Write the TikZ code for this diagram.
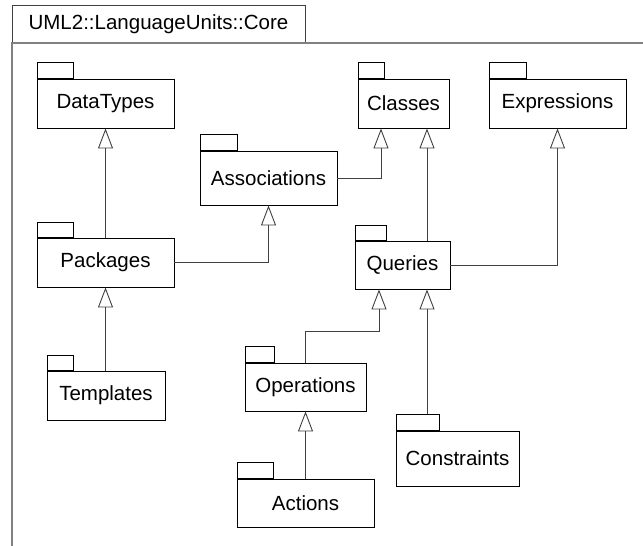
\documentclass[tikz,border=0pt]{standalone}
\usepackage{fontspec}
\setmainfont{Liberation Sans}
\usetikzlibrary{arrows.meta,calc}
\begin{document}
\begin{tikzpicture}[x=1pt,y=-1pt,
  font=\fontsize{20.5}{24}\selectfont,
  pkg/.style={draw=black,line width=0.9pt,inner sep=0pt,minimum height=49pt,fill=white},
  pkgtab/.style={draw=black,line width=0.9pt,inner sep=0pt,minimum height=16pt,anchor=south west},
  gen/.style={draw=black!75,line width=0.9pt,-{Triangle[open,length=20pt,width=15pt,line width=0.9pt]}},
  frame/.style={draw=black!50,line width=1.4pt}]
\useasboundingbox (0,0) rectangle (643,546);
% frame
\node[draw=black!75,line width=0.9pt,minimum width=293pt,minimum height=38pt,inner sep=0pt] (title) at (158.5,24) {UML2::LanguageUnits::Core};
\coordinate (ftl) at (12,43);
\coordinate (ftr) at (643,43);
\coordinate (fbl) at (12,546);
\draw[frame] (fbl) -- (ftl) -- (ftr);
% packages
\node[pkg,minimum width=137pt] (datatypes) at (105.5,103.5) {DataTypes};
\node[pkgtab,minimum width=36pt] (datatypestab) at (datatypes.north west) {};
\node[pkg,minimum width=91pt] (classes) at (403.5,103.5) {Classes};
\node[pkgtab,minimum width=26pt] (classestab) at (classes.north west) {};
\node[pkg,minimum width=137pt] (expressions) at (557.5,103.5) {Expressions};
\node[pkgtab,minimum width=37pt] (expressionstab) at (expressions.north west) {};
\node[pkg,minimum width=137pt,minimum height=54pt] (associations) at (268.5,178) {Associations};
\node[pkgtab,minimum width=37pt] (associationstab) at (associations.north west) {};
\node[pkg,minimum width=137pt] (packages) at (105.5,262.5) {Packages};
\node[pkgtab,minimum width=36pt,minimum height=15pt] (packagestab) at (packages.north west) {};
\node[pkg,minimum width=95pt,minimum height=48pt] (queries) at (402.5,265) {Queries};
\node[pkgtab,minimum width=31pt,minimum height=15pt] (queriestab) at (queries.north west) {};
\node[pkg,minimum width=118pt] (templates) at (106,395.5) {Templates};
\node[pkgtab,minimum width=26pt,minimum height=15pt] (templatestab) at (templates.north west) {};
\node[pkg,minimum width=121pt,minimum height=48pt] (operations) at (305.5,387) {Operations};
\node[pkgtab,minimum width=29pt] (operationstab) at (operations.north west) {};
\node[pkg,minimum width=123pt,minimum height=55pt] (constraints) at (457.5,458.5) {Constraints};
\node[pkgtab,minimum width=43pt] (constraintstab) at (constraints.north west) {};
\node[pkg,minimum width=137pt,minimum height=48pt] (actions) at (305.5,503) {Actions};
\node[pkgtab,minimum width=36pt] (actionstab) at (actions.north west) {};
% helper coordinates
\coordinate (cls1) at ($(classes.south)+(-22.5,0)$);
\coordinate (cls2) at ($(classes.south)+(23.5,0)$);
\coordinate (qs1) at ($(queries.south)+(-23.5,0)$);
\coordinate (qs2) at ($(queries.south)+(24.5,0)$);
% connectors
\draw[gen] (packages.north) -- (datatypes.south);
\draw[gen] (templates.north -| packages.south) -- (packages.south);
\draw[gen] (packages.east) -| (associations.south);
\draw[gen] (associations.east) -| (cls1);
\draw[gen] (queries.north -| cls2) -- (cls2);
\draw[gen] (queries.east) -| (expressions.south);
\draw[gen] (operations.north) -- ++(0,-31) -| (qs1);
\draw[gen] (qs2 |- constraintstab.north) -- (qs2);
\draw[gen] (actions.north) -- (operations.south);
\end{tikzpicture}
\end{document}
